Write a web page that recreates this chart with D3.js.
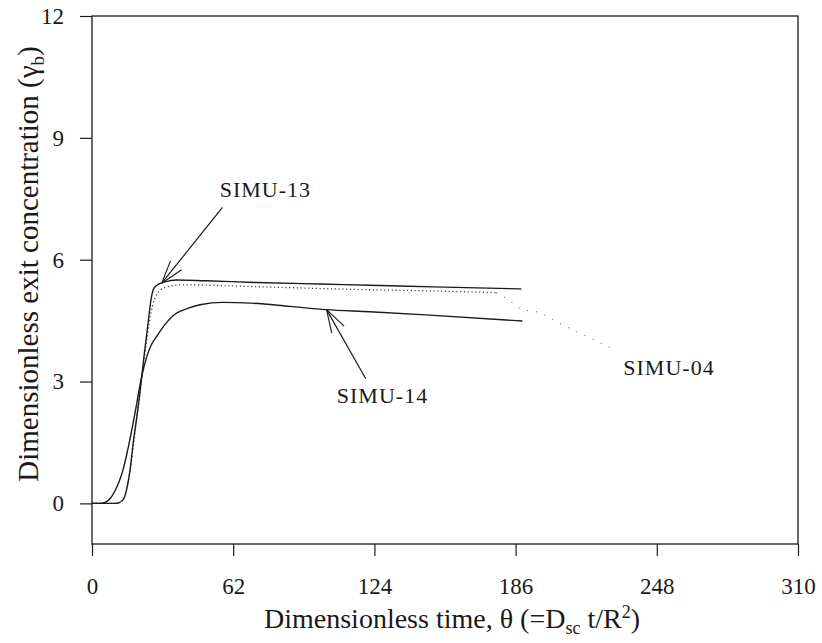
<!DOCTYPE html>
<html>
<head>
<meta charset="utf-8">
<script src="https://cdn.jsdelivr.net/npm/d3@7"></script>
<style>
  html, body { margin: 0; padding: 0; background: #fff; }
  svg { display: block; }
  text { font-family: "Liberation Serif", "DejaVu Serif", serif; fill: #1a1a1a; }
</style>
</head>
<body>
<svg id="chart" width="822" height="643"></svg>
<script>
// ---- data ----
const xTicks = [0, 62, 124, 186, 248, 310];
const yTicks = [0, 3, 6, 9, 12];

const simu13Theta = [0, 6, 10, 12, 14, 15.5, 16.7, 18, 19.6, 21, 22, 23, 24, 25, 26, 27, 28.5, 30.6, 34, 37, 50, 72, 100, 122, 150, 188.5];
const simu13Gamma = [0, 0, 0, 0.02, 0.12, 0.42, 0.82, 1.45, 2.1, 2.7, 3.2, 3.7, 4.15, 4.62, 5.05, 5.28, 5.37, 5.43, 5.48, 5.5, 5.48, 5.44, 5.4, 5.37, 5.33, 5.28];

const simu14Theta = [0, 4, 6, 8, 10, 12, 13.6, 16, 18.9, 21.8, 24, 26, 28.4, 32, 37, 42, 47.4, 57.5, 70, 86.8, 103, 122, 150, 189];
const simu14Gamma = [0, 0, 0.03, 0.12, 0.3, 0.55, 0.82, 1.4, 2.23, 3.12, 3.6, 3.9, 4.11, 4.4, 4.68, 4.8, 4.89, 4.95, 4.93, 4.85, 4.77, 4.72, 4.63, 4.49];

const simu04Theta = [0, 10, 13, 15, 17, 19, 21, 22, 23.5, 25, 26.5, 28, 30, 33, 40, 70, 113, 150, 177.5];
const simu04Gamma = [0, 0, 0.05, 0.3, 0.9, 1.8, 2.7, 3.15, 3.8, 4.4, 4.85, 5.1, 5.25, 5.33, 5.38, 5.34, 5.27, 5.23, 5.19];
const simu04TailTheta = [177.5, 183, 189, 195, 208, 229];
const simu04TailGamma = [5.19, 5.01, 4.77, 4.72, 4.36, 3.8];

const labels = ["SIMU-13", "SIMU-14", "SIMU-04"];

// ---- layout ----
const svg = d3.select("#chart");
const x = d3.scaleLinear().domain([0, 310]).range([92, 798]);
const y = d3.scaleLinear().domain([-1, 12]).range([544, 16]);
const ink = "#1a1a1a";

// axes
const yAxis = d3.axisLeft(y).tickValues(yTicks).tickSize(12).tickPadding(16).tickFormat(d3.format("d"));
const gy = svg.append("g").attr("transform", `translate(${x(0)},0)`).call(yAxis);
gy.select(".domain").remove();
gy.selectAll("line").attr("stroke", ink).attr("stroke-width", 1.2);
gy.selectAll("text").attr("font-size", 23).attr("font-family", "Liberation Serif, serif").attr("fill", ink);

const xAxis = d3.axisBottom(x).tickValues(xTicks).tickSize(12).tickPadding(22).tickFormat(d3.format("d"));
const gx = svg.append("g").attr("transform", `translate(0,${y(-1)})`).call(xAxis);
gx.select(".domain").remove();
gx.selectAll("line").attr("stroke", ink).attr("stroke-width", 1.2);
gx.selectAll("text").attr("font-size", 23).attr("font-family", "Liberation Serif, serif").attr("fill", ink);

// frame
svg.append("rect")
  .attr("x", x(0)).attr("y", y(12))
  .attr("width", x(310) - x(0)).attr("height", y(-1) - y(12))
  .attr("fill", "none").attr("stroke", ink).attr("stroke-width", 1.3);

// lines
const line = d3.line().x(d => x(d[0])).y(d => y(d[1])).curve(d3.curveMonotoneX);
const zip = (a, b) => a.map((v, i) => [v, b[i]]);

svg.append("path").datum(zip(simu04Theta, simu04Gamma))
  .attr("d", line).attr("fill", "none").attr("stroke", "#444")
  .attr("stroke-width", 1.3).attr("stroke-dasharray", "1.2,2.6");
svg.append("path").datum(zip(simu04TailTheta, simu04TailGamma))
  .attr("d", line).attr("fill", "none").attr("stroke", "#777")
  .attr("stroke-width", 1.2).attr("stroke-dasharray", "1,8");

svg.append("path").datum(zip(simu13Theta, simu13Gamma))
  .attr("d", line).attr("fill", "none").attr("stroke", ink).attr("stroke-width", 1.4);
svg.append("path").datum(zip(simu14Theta, simu14Gamma))
  .attr("d", line).attr("fill", "none").attr("stroke", ink).attr("stroke-width", 1.4);

// annotations (positions in data units)
const notes = [
  { text: labels[0], tx: 56.1, ty: 7.55, arrow: { from: [57.3, 7.29], to: [30.6, 5.42] } },
  { text: labels[1], tx: 107.5, ty: 2.47, arrow: { from: [120.2, 3.07], to: [103, 4.77] } },
  { text: labels[2], tx: 233.3, ty: 3.15, arrow: null }
];

notes.forEach(n => {
  svg.append("text").attr("x", x(n.tx)).attr("y", y(n.ty))
    .attr("font-size", 22).attr("letter-spacing", 1).text(n.text);
  if (n.arrow) {
    const x1 = x(n.arrow.from[0]), y1 = y(n.arrow.from[1]);
    const x2 = x(n.arrow.to[0]), y2 = y(n.arrow.to[1]);
    svg.append("line").attr("x1", x1).attr("y1", y1).attr("x2", x2).attr("y2", y2)
      .attr("stroke", ink).attr("stroke-width", 1.2);
    const ang = Math.atan2(y1 - y2, x1 - x2);
    [-0.3, 0.3].forEach(da => {
      svg.append("line").attr("x1", x2).attr("y1", y2)
        .attr("x2", x2 + 24 * Math.cos(ang + da)).attr("y2", y2 + 24 * Math.sin(ang + da))
        .attr("stroke", ink).attr("stroke-width", 1.1);
    });
  }
});

// axis titles
const xt = svg.append("text").attr("x", 452).attr("y", 628).attr("text-anchor", "middle").attr("font-size", 28);
xt.append("tspan").text("Dimensionless time, \u03B8 (=D");
xt.append("tspan").attr("font-size", 18).attr("dy", 6).text("sc");
xt.append("tspan").attr("dy", -6).text(" t/R");
xt.append("tspan").attr("font-size", 18).attr("dy", -10).text("2");
xt.append("tspan").attr("dy", 10).text(")");

const yt = svg.append("text").attr("transform", "translate(38,264) rotate(-90)")
  .attr("text-anchor", "middle").attr("font-size", 29);
yt.append("tspan").text("Dimensionless exit concentration (\u03B3");
yt.append("tspan").attr("font-size", 19).attr("dy", 6).text("b");
yt.append("tspan").attr("dy", -6).text(")");
</script>
</body>
</html>
